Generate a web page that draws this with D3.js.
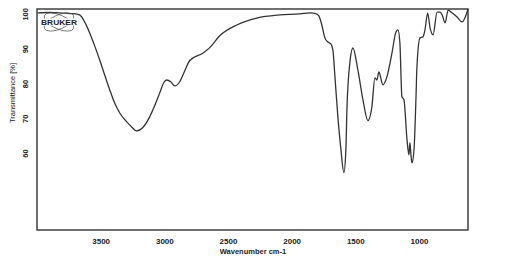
<!DOCTYPE html>
<html>
<head>
<meta charset="utf-8">
<script src="https://cdn.jsdelivr.net/npm/d3@7"></script>
<style>
    body { margin: 0; background: #fff; }
    #chart-area text { font-family: "Liberation Sans", Arial, sans-serif; fill: #222; }
</style>
</head>
<body>
<div id="chart-area"></div>
<script>
// wavenumber (cm-1), high to low
const wavenumbers = [3995, 3901, 3822, 3744, 3697, 3665, 3626, 3586, 3547, 3508, 3469, 3429, 3390, 3351, 3311, 3272,
    3217, 3170, 3115, 3076, 3036, 3005, 2981, 2950, 2918, 2879, 2840, 2800, 2698, 2643, 2565, 2431, 2274, 2093,
    1936, 1857, 1810, 1786, 1763, 1739, 1715, 1692, 1676, 1660, 1637, 1613, 1590, 1574, 1566, 1543, 1519, 1480,
    1440, 1401, 1370, 1346, 1330, 1315, 1283, 1252, 1212, 1181, 1165, 1150, 1134, 1118, 1094, 1079, 1071, 1063,
    1055, 1039, 1024, 1016, 992, 968, 953, 932, 913, 889, 858, 834, 818, 795, 771, 741, 701, 662, 630, 615];

// transmittance (%) at those wavenumbers
const transmittance = [100.3, 100.4, 100.3, 100.1, 100, 99.7, 97.7, 94.5, 90.8, 86.8, 82.5, 78.2, 74.4, 71.6, 69.6, 68.1,
    66.4, 67.3, 70.4, 73.6, 77.3, 80.2, 81.0, 80.5, 79.3, 80.5, 83.6, 86.6, 88.7, 90.3, 93.7, 96.8, 98.8, 99.7,
    100, 100.3, 100.1, 99.4, 96.8, 93.1, 91.9, 91.4, 89.6, 81.9, 70.4, 61, 54.4, 61, 72.4, 85.9, 90.2, 83.9,
    75.3, 69.3, 73.3, 81.6, 81.0, 83.3, 79.6, 81.9, 88.8, 94.8, 95.4, 91.7, 76.2, 75.3, 63.8, 59.5, 63, 59.5,
    57.2, 61, 75.3, 84.8, 93.1, 93.4, 95.4, 100.2, 96, 94, 100.5, 100.5, 99.7, 97.4, 101.1, 100.3, 99.1, 97.7, 99.7, 101.4];

const xTickValues = [3500, 3000, 2500, 2000, 1500, 1000];
const yTickValues = [60, 70, 80, 90, 100];

class SpectrumChart {
    constructor(parentElement, xs, ys) {
        this.parentElement = parentElement;
        this.displayData = xs.map((w, i) => ({wavenumber: w, value: ys[i]}));
        this.initVis();
    }

    initVis() {
        let vis = this;

        vis.margin = {top: 9, right: 38, bottom: 39, left: 37};
        vis.width = 506 - vis.margin.left - vis.margin.right;
        vis.height = 269 - vis.margin.top - vis.margin.bottom;

        vis.svg = d3.select("#" + vis.parentElement).append("svg")
            .attr("width", 506)
            .attr("height", 269)
            .append("g")
            .attr("transform", `translate(${vis.margin.left}, ${vis.margin.top})`);

        vis.x = d3.scaleLinear()
            .domain([4000, 615])
            .range([0, vis.width]);

        vis.y = d3.scaleLinear()
            .domain([37.9, 101.4])
            .range([vis.height, 0]);

        vis.xAxis = d3.axisBottom(vis.x)
            .tickValues(xTickValues)
            .tickFormat(d3.format("d"))
            .tickSize(0)
            .tickPadding(8);

        vis.yAxis = d3.axisLeft(vis.y)
            .tickValues(yTickValues)
            .tickFormat(d3.format("d"))
            .tickSize(0);

        vis.updateVis();
    }

    updateVis() {
        let vis = this;

        // x axis, no ticks, just labels
        let gx = vis.svg.append("g")
            .attr("class", "x-axis")
            .attr("transform", `translate(0, ${vis.height})`)
            .call(vis.xAxis);
        gx.select(".domain").remove();
        gx.selectAll("text")
            .style("font-size", "8px")
            .style("font-weight", "bold")
            .attr("fill", "#222");

        // y axis labels are turned on their side
        let gy = vis.svg.append("g")
            .attr("class", "y-axis")
            .call(vis.yAxis);
        gy.select(".domain").remove();
        gy.selectAll("text")
            .attr("x", 0)
            .attr("dy", 0)
            .attr("text-anchor", "middle")
            .attr("transform", "translate(-9.5, 0) rotate(-90)")
            .style("font-size", "7.5px")
            .style("font-weight", "bold")
            .attr("fill", "#222");

        // axis titles
        vis.svg.append("text")
            .attr("x", 216)
            .attr("y", 245)
            .attr("text-anchor", "middle")
            .style("font-size", "7.5px")
            .style("font-weight", "bold")
            .text("Wavenumber cm-1");

        vis.svg.append("text")
            .attr("transform", `translate(${-22}, ${84}) rotate(-90)`)
            .attr("text-anchor", "middle")
            .style("font-size", "7.5px")
            .text("Transmittance [%]");

        // spectrum
        vis.line = d3.line()
            .x(d => vis.x(d.wavenumber))
            .y(d => vis.y(d.value))
            .curve(d3.curveMonotoneX);

        vis.svg.append("path")
            .datum(vis.displayData)
            .attr("fill", "none")
            .attr("stroke", "#333")
            .attr("stroke-width", 1.3)
            .attr("stroke-linejoin", "round")
            .attr("d", vis.line);

        // frame
        vis.svg.append("rect")
            .attr("width", vis.width)
            .attr("height", vis.height)
            .attr("fill", "none")
            .attr("stroke", "#333")
            .attr("stroke-width", 1.4);

        // little bruker logo in the corner, two loops crossing behind the name
        let logo = vis.svg.append("g").attr("transform", "translate(22, 13)");
        logo.append("ellipse")
            .attr("rx", 16).attr("ry", 7)
            .attr("transform", "rotate(24)")
            .attr("fill", "none").attr("stroke", "#555").attr("stroke-width", 0.7);
        logo.append("ellipse")
            .attr("rx", 16).attr("ry", 7)
            .attr("transform", "rotate(-24)")
            .attr("fill", "none").attr("stroke", "#555").attr("stroke-width", 0.7);
        logo.append("rect")
            .attr("x", -18).attr("y", -3.5).attr("width", 37).attr("height", 7)
            .attr("fill", "#fff");
        logo.append("text")
            .attr("x", -18)
            .attr("y", 3)
            .attr("textLength", 36)
            .attr("lengthAdjust", "spacingAndGlyphs")
            .style("font-size", "7.5px")
            .style("font-weight", "bold")
            .attr("fill", "#111")
            .text("BRUKER");
    }
}

new SpectrumChart("chart-area", wavenumbers, transmittance);
</script>
</body>
</html>
